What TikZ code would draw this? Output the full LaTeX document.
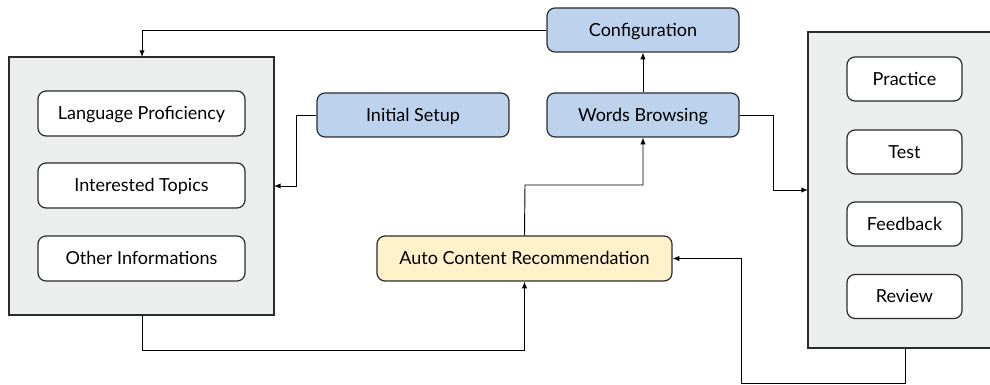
\documentclass[tikz,border=0pt]{standalone}
\usepackage{fontspec}
\setmainfont{Lato}
\usetikzlibrary{arrows.meta}
\definecolor{bluefill}{HTML}{BDD2ED}
\definecolor{yellowfill}{HTML}{FFF1C9}
\definecolor{grayfill}{HTML}{ECEEED}
\definecolor{edge}{HTML}{2B2B2B}
\tikzset{
  boxfont/.style={font=\fontsize{13.5pt}{15pt}\selectfont, text height=9.6pt, text depth=0pt},
  container/.style={draw=edge, fill=grayfill, line width=0.9pt},
  whitebox/.style={draw=edge, fill=white, rounded corners=6pt, line width=0.9pt, boxfont},
  bluebox/.style={draw=edge, fill=bluefill, rounded corners=6pt, line width=0.9pt, boxfont},
  yellowbox/.style={draw=edge, fill=yellowfill, rounded corners=6pt, line width=0.9pt, boxfont},
  conn/.style={draw=black, line width=0.7pt, -{Latex[length=5pt,width=4pt]}},
}
\begin{document}
\begin{tikzpicture}[x=0.75pt,y=-0.75pt]
\useasboundingbox (0,0) rectangle (990,385);
% left container
\path[container] (9,57) rectangle (274,315);
\coordinate (lc-top) at (142,57);
\coordinate (lc-bot) at (142,315);
\coordinate (lc-right) at (274,186);
\node[whitebox, minimum width=207*0.75pt, minimum height=45*0.75pt] (lang) at (141.5,113.5) {Language Proficiency};
\node[whitebox, minimum width=207*0.75pt, minimum height=45*0.75pt] (topics) at (141.5,185.5) {Interested Topics};
\node[whitebox, minimum width=207*0.75pt, minimum height=45*0.75pt] (other) at (141.5,258.5) {Other Informations};
% right container
\path[container] (808,32) rectangle (993,348);
\coordinate (rc-left) at (808,190);
\coordinate (rc-bot) at (905,348);
\node[whitebox, minimum width=115*0.75pt, minimum height=44*0.75pt] (practice) at (904.5,79) {Practice};
\node[whitebox, minimum width=115*0.75pt, minimum height=44*0.75pt] (test) at (904.5,152) {Test};
\node[whitebox, minimum width=115*0.75pt, minimum height=44*0.75pt] (feedback) at (904.5,224) {Feedback};
\node[whitebox, minimum width=115*0.75pt, minimum height=44*0.75pt] (review) at (904.5,296.5) {Review};
% blue boxes
\node[bluebox, minimum width=192*0.75pt, minimum height=44*0.75pt] (config) at (643,30) {Configuration};
\node[bluebox, minimum width=192*0.75pt, minimum height=44*0.75pt] (words) at (643,115) {Words Browsing};
\node[bluebox, minimum width=192*0.75pt, minimum height=44*0.75pt] (setup) at (413,115) {Initial Setup};
% yellow
\node[yellowbox, minimum width=295*0.75pt, minimum height=45*0.75pt] (auto) at (524.5,258.5) {Auto Content Recommendation};
% connectors
\draw[conn] (config.west) -| (lc-top);
\draw[conn] (words.north) -- (config.south);
\draw[conn] (setup.west) -- (296,115) |- (lc-right);
\draw[conn] (auto.north) -- (525,185) -| (words.south);
\draw[conn] (words.east) -- (773,115) |- (rc-left);
\draw[conn] (lc-bot) -- (142,350) -| (auto.south);
\draw[conn] (rc-bot) -- (905,383) -- (741,383) |- (auto.east);
\end{tikzpicture}
\end{document}
